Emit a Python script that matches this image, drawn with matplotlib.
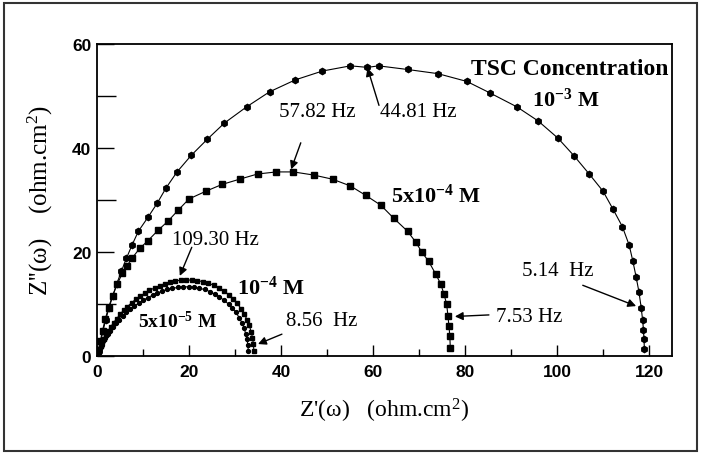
import matplotlib
matplotlib.use("Agg")
import matplotlib.pyplot as plt
from matplotlib.patches import Rectangle
from matplotlib.ticker import MultipleLocator

plt.rcParams["mathtext.fontset"] = "custom"
plt.rcParams["mathtext.rm"] = "Liberation Serif"
plt.rcParams["mathtext.bf"] = "Liberation Serif:bold"
plt.rcParams["mathtext.default"] = "regular"

# ---------------- data ----------------
# 10^-3 M
x_1e3 = [0.4, 0.8, 1.3, 1.9, 2.6, 3.4, 4.3, 5.3, 6.4, 7.6, 9.0, 11.1, 13.1, 15.0,
         17.4, 20.5, 24.0, 27.7, 32.5, 37.5, 43.1, 49.0, 55.1, 58.8, 61.2, 67.5,
         74.1, 80.4, 85.4, 91.3, 95.9, 100.2, 103.7, 107.0, 110.0, 112.2, 114.2,
         115.7, 116.5, 117.2, 117.8, 118.3, 118.6, 118.8, 118.9, 119.0]
y_1e3 = [1.0, 2.8, 4.8, 7.0, 9.2, 11.5, 13.9, 16.3, 18.8, 21.3, 24.0, 26.7, 29.4,
         32.3, 35.4, 38.6, 41.7, 44.8, 47.9, 50.8, 53.1, 54.8, 55.8, 55.5, 55.8,
         55.1, 54.3, 52.8, 50.6, 47.9, 45.2, 41.9, 38.5, 35.0, 31.7, 28.2, 24.9,
         21.3, 18.2, 15.2, 12.4, 9.3, 7.0, 5.0, 3.2, 1.4]

# 5x10^-4 M
x_5e4 = [0.3, 0.7, 1.2, 1.8, 2.5, 3.4, 4.4, 5.5, 6.5, 7.6, 9.3, 11.1, 13.3, 15.4,
         17.6, 20.0, 23.7, 27.2, 31.0, 34.9, 39.0, 42.7, 47.1, 51.2, 55.1, 58.4,
         61.7, 64.5, 67.5, 69.3, 70.6, 72.1, 73.6, 74.7, 75.4, 76.0, 76.3, 76.5,
         76.7, 76.8]
y_5e4 = [1.0, 2.8, 4.9, 7.1, 9.3, 11.6, 13.8, 15.9, 17.3, 18.8, 20.7, 22.2, 24.2,
         25.9, 28.0, 30.2, 31.7, 33.0, 34.0, 35.0, 35.4, 35.4, 34.8, 34.0, 32.7,
         30.9, 29.0, 26.5, 24.0, 21.9, 20.0, 18.2, 15.8, 13.9, 12.0, 10.0, 7.7,
         5.8, 3.9, 1.6]

# 10^-4 M
x_1e4 = [0.1, 0.3, 0.5, 0.8, 1.1, 1.5, 1.9, 2.4, 3.0, 3.6, 4.3, 5.0, 5.8, 6.6, 7.5,
         8.4, 9.4, 10.4, 11.4, 12.5, 13.6, 14.7, 15.8, 17.0, 18.2, 19.4, 20.6,
         21.8, 23.0, 24.2, 25.4, 26.5, 27.6, 28.6, 29.6, 30.5, 31.3, 32.0, 32.6,
         33.1, 33.5, 33.8, 34.0, 34.1]
y_1e4 = [0.3, 0.8, 1.3, 2.0, 2.6, 3.3, 4.0, 4.8, 5.6, 6.4, 7.2, 8.0, 8.8, 9.5, 10.2,
         10.9, 11.5, 12.1, 12.6, 13.1, 13.5, 13.9, 14.2, 14.4, 14.6, 14.6, 14.6,
         14.5, 14.3, 14.0, 13.6, 13.1, 12.5, 11.8, 11.0, 10.1, 9.1, 8.1, 7.0,
         5.9, 4.7, 3.5, 2.3, 1.0]

# 5x10^-5 M
x_5e5 = [0.1, 0.3, 0.5, 0.8, 1.1, 1.4, 1.8, 2.3, 2.9, 3.5, 4.1, 4.8, 5.6, 6.4, 7.2,
         8.1, 9.1, 10.0, 11.0, 12.1, 13.1, 14.2, 15.2, 16.4, 17.6, 18.7, 19.9,
         21.0, 22.2, 23.4, 24.5, 25.6, 26.6, 27.6, 28.6, 29.4, 30.2, 30.9, 31.5,
         32.0, 32.3, 32.6, 32.8, 32.9]
y_5e5 = [0.3, 0.7, 1.1, 1.7, 2.2, 2.8, 3.5, 4.2, 4.9, 5.6, 6.3, 7.0, 7.7, 8.4, 9.0,
         9.6, 10.2, 10.7, 11.2, 11.7, 12.1, 12.5, 12.8, 13.0, 13.2, 13.3, 13.3,
         13.2, 13.0, 12.8, 12.4, 11.9, 11.4, 10.7, 10.0, 9.2, 8.4, 7.4, 6.4,
         5.4, 4.3, 3.2, 2.1, 0.9]

x_ticks = [0, 20, 40, 60, 80, 100, 120]
y_ticks = [0, 20, 40, 60]

# ---------------- figure ----------------
fig = plt.figure(figsize=(7.01, 4.56), dpi=100)
ax = fig.add_axes([97/701, 1 - 357/456, (672 - 97)/701, (357 - 45)/456])

line_kw = dict(color="black", linewidth=0.8, markeredgecolor="black",
               markerfacecolor="black")
ax.plot(x_1e3, y_1e3, marker="h", markersize=4.5, **line_kw)
ax.plot(x_5e4, y_5e4, marker="s", markersize=3.8, **line_kw)
ax.plot(x_1e4, y_1e4, marker="s", markersize=2.8, **line_kw)
ax.plot(x_5e5, y_5e5, marker="o", markersize=2.8, **line_kw)

ax.set_xlim(0, 125)
ax.set_ylim(0, 60)
ax.set_xticks(x_ticks)
ax.set_yticks(y_ticks)
ax.xaxis.set_minor_locator(MultipleLocator(10))
ax.yaxis.set_minor_locator(MultipleLocator(10))
ax.tick_params(which="both", direction="in", top=False, right=False,
               width=1.0, colors="black")
ax.tick_params(axis="x", which="major", length=8, pad=6)
ax.tick_params(axis="x", which="minor", length=5)
ax.tick_params(axis="y", which="major", length=12, pad=4)
ax.tick_params(axis="y", which="minor", length=14)
for lab in ax.get_xticklabels() + ax.get_yticklabels():
    lab.set_fontfamily("Liberation Sans")
    lab.set_fontsize(12.5)
    lab.set_fontweight("bold")
for sp in ax.spines.values():
    sp.set_linewidth(1.3)

serif = "Liberation Serif"
ax.set_xlabel("Z'(\u03c9)   (ohm.cm$^2$)", fontfamily=serif, fontsize=17, labelpad=12)
ax.set_ylabel("Z''(\u03c9)    (ohm.cm$^2$)", fontfamily=serif, fontsize=18, labelpad=12)

bold_kw = dict(fontfamily=serif, fontweight="bold", va="center", ha="left")
ax.text(124.3, 55.3, "TSC Concentration", fontsize=17, fontfamily=serif,
        fontweight="bold", va="center", ha="right")
ax.text(94.5, 49.3, "10$^{-3}$ M", fontsize=16, **bold_kw)
ax.text(64.0, 31.0, "5x10$^{-4}$ M", fontsize=16, **bold_kw)
ax.text(30.4, 13.2, "10$^{-4}$ M", fontsize=16, **bold_kw)
ax.text(8.9, 6.8, "5x10$^{-5}$ M", fontsize=14, **bold_kw)

hz_kw = dict(fontfamily=serif, fontsize=15, va="center", ha="left")
arr = dict(arrowstyle="-|>", color="black", lw=1.0, mutation_scale=12,
           shrinkA=0, shrinkB=0)
ax.text(39.6, 47.0, "57.82 Hz", **hz_kw)
ax.annotate("", xy=(42.2, 35.9), xytext=(44.3, 41.0), arrowprops=arr)
ax.annotate("", xy=(58.8, 55.4), xytext=(61.3, 48.2), arrowprops=arr)
ax.text(61.5, 47.0, "44.81 Hz", **hz_kw)
ax.annotate("", xy=(18.0, 15.4), xytext=(20.6, 20.9), arrowprops=arr)
ax.text(16.4, 22.4, "109.30 Hz", **hz_kw)
ax.annotate("", xy=(35.0, 2.3), xytext=(40.2, 4.2), arrowprops=arr)
ax.text(41.0, 6.9, "8.56  Hz", **hz_kw)
ax.annotate("", xy=(77.8, 7.6), xytext=(85.2, 7.9), arrowprops=arr)
ax.text(86.8, 7.5, "7.53 Hz", **hz_kw)
ax.annotate("", xy=(117.2, 9.6), xytext=(105.6, 13.6), arrowprops=arr)
ax.text(92.3, 16.4, "5.14  Hz", **hz_kw)

# outer frame around the whole figure
fig.patches.append(Rectangle((4/701, 4/456), 693/701, 448/456, transform=fig.transFigure,
                             fill=False, edgecolor="#333333", linewidth=1.5))

fig.savefig("out.png", dpi=100)
